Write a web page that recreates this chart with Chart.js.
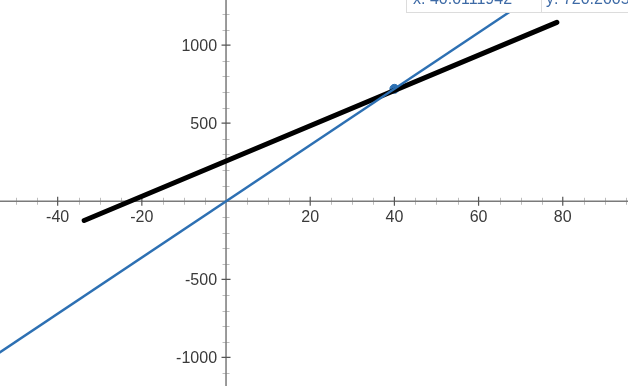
<!DOCTYPE html>
<html>
<head>
<meta charset="utf-8">
<script src="https://cdn.jsdelivr.net/npm/chart.js@4.4.0/dist/chart.umd.min.js"></script>
<style>
  html, body { margin: 0; padding: 0; background: #fff; }
  #wrap { width: 628px; height: 386px; position: relative; }
</style>
</head>
<body>
<div id="wrap"><canvas id="graph"></canvas></div>
<script>
// valores
const blueX = [-60, 75];
const blueY = [-1080, 1350];
const blackX = [-33.7, 78.6];
const blackY = [-123, 1146];
const pointX = [40];
const pointY = [720.2];

const xTickLabels = [-40, -20, 20, 40, 60, 80];
const yTickLabels = [1000, 500, -500, -1000];
const coordLabels = ['x: 40.0111942', 'y: 720.2005'];

function toPoints(xs, ys) {
    return xs.map((x, i) => ({ x: x, y: ys[i] }));
}

// eixos no estilo desmos, desenhados a partir das escalas
const axesPlugin = {
    id: 'axes',
    beforeDatasetsDraw(chart) {
        const ctx = chart.ctx;
        const xs = chart.scales.x;
        const ys = chart.scales.y;
        const x0 = xs.getPixelForValue(0);
        const y0 = ys.getPixelForValue(0);
        const area = chart.chartArea;

        ctx.save();
        // marcas menores (claras)
        ctx.strokeStyle = '#bdbdbd';
        ctx.lineWidth = 1;
        ctx.beginPath();
        for (let v = -50; v <= 95; v += 5) {
            if (v % 20 === 0) continue;
            const p = Math.round(xs.getPixelForValue(v)) + 0.5;
            ctx.moveTo(p, y0 - 3.5);
            ctx.lineTo(p, y0 + 3.5);
        }
        for (let v = -1100; v <= 1200; v += 100) {
            if (v % 500 === 0) continue;
            const p = Math.round(ys.getPixelForValue(v)) + 0.5;
            ctx.moveTo(x0 - 3.5, p);
            ctx.lineTo(x0 + 3.5, p);
        }
        ctx.stroke();

        // eixos
        ctx.strokeStyle = '#7a7a7a';
        ctx.lineWidth = 1.5;
        ctx.beginPath();
        ctx.moveTo(area.left, y0);
        ctx.lineTo(area.right, y0);
        ctx.moveTo(x0, area.top);
        ctx.lineTo(x0, area.bottom);
        ctx.stroke();

        // marcas maiores
        ctx.strokeStyle = '#555';
        ctx.lineWidth = 1.2;
        ctx.beginPath();
        xTickLabels.forEach(v => {
            const p = xs.getPixelForValue(v);
            ctx.moveTo(p, y0 - 4.5);
            ctx.lineTo(p, y0 + 4.5);
        });
        yTickLabels.forEach(v => {
            const p = ys.getPixelForValue(v);
            ctx.moveTo(x0 - 4.5, p);
            ctx.lineTo(x0 + 4.5, p);
        });
        ctx.stroke();

        ctx.fillStyle = '#3a3a3a';
        ctx.font = '16px "Liberation Sans", Arial, sans-serif';
        ctx.textAlign = 'center';
        ctx.textBaseline = 'middle';
        xTickLabels.forEach(v => {
            ctx.fillText(String(v), xs.getPixelForValue(v), y0 + 16);
        });
        ctx.textAlign = 'right';
        yTickLabels.forEach(v => {
            ctx.fillText(String(v), x0 - 9, ys.getPixelForValue(v) + 1);
        });
        ctx.restore();
    },
    afterDatasetsDraw(chart) {
        // caixas de coordenadas cortadas no topo
        const ctx = chart.ctx;
        ctx.save();
        ctx.fillStyle = '#fff';
        ctx.strokeStyle = '#dcdcdc';
        ctx.lineWidth = 1;
        ctx.fillRect(406, -2, 135, 14.5);
        ctx.strokeRect(406.5, -2, 135, 14.5);
        ctx.fillRect(541, -2, 100, 14.5);
        ctx.strokeRect(541.5, -2, 100, 14.5);
        ctx.fillStyle = '#3d6aa6';
        ctx.font = '16px "Liberation Sans", Arial, sans-serif';
        ctx.textAlign = 'left';
        ctx.textBaseline = 'alphabetic';
        ctx.fillText(coordLabels[0], 413, 3.5);
        ctx.fillText(coordLabels[1], 546, 3.5);
        ctx.restore();
    }
};

new Chart(document.getElementById('graph'), {
    type: 'scatter',
    data: {
        datasets: [
            {
                data: toPoints(blueX, blueY),
                showLine: true,
                borderColor: '#2d70b3',
                borderWidth: 2.4,
                pointRadius: 0
            },
            {
                data: toPoints(blackX, blackY),
                showLine: true,
                borderColor: '#000',
                borderWidth: 5,
                borderCapStyle: 'round',
                pointRadius: 0
            },
            {
                data: toPoints(pointX, pointY),
                showLine: false,
                backgroundColor: '#2d70b3',
                borderColor: '#2d70b3',
                pointRadius: 4.5
            }
        ]
    },
    options: {
        responsive: true,
        maintainAspectRatio: false,
        animation: false,
        layout: { padding: 0, autoPadding: false },
        plugins: {
            legend: { display: false },
            tooltip: { enabled: false }
        },
        scales: {
            x: { type: 'linear', min: -53.7, max: 95.5, display: false },
            y: { type: 'linear', min: -1183, max: 1289, display: false }
        }
    },
    plugins: [axesPlugin]
});
</script>
</body>
</html>
